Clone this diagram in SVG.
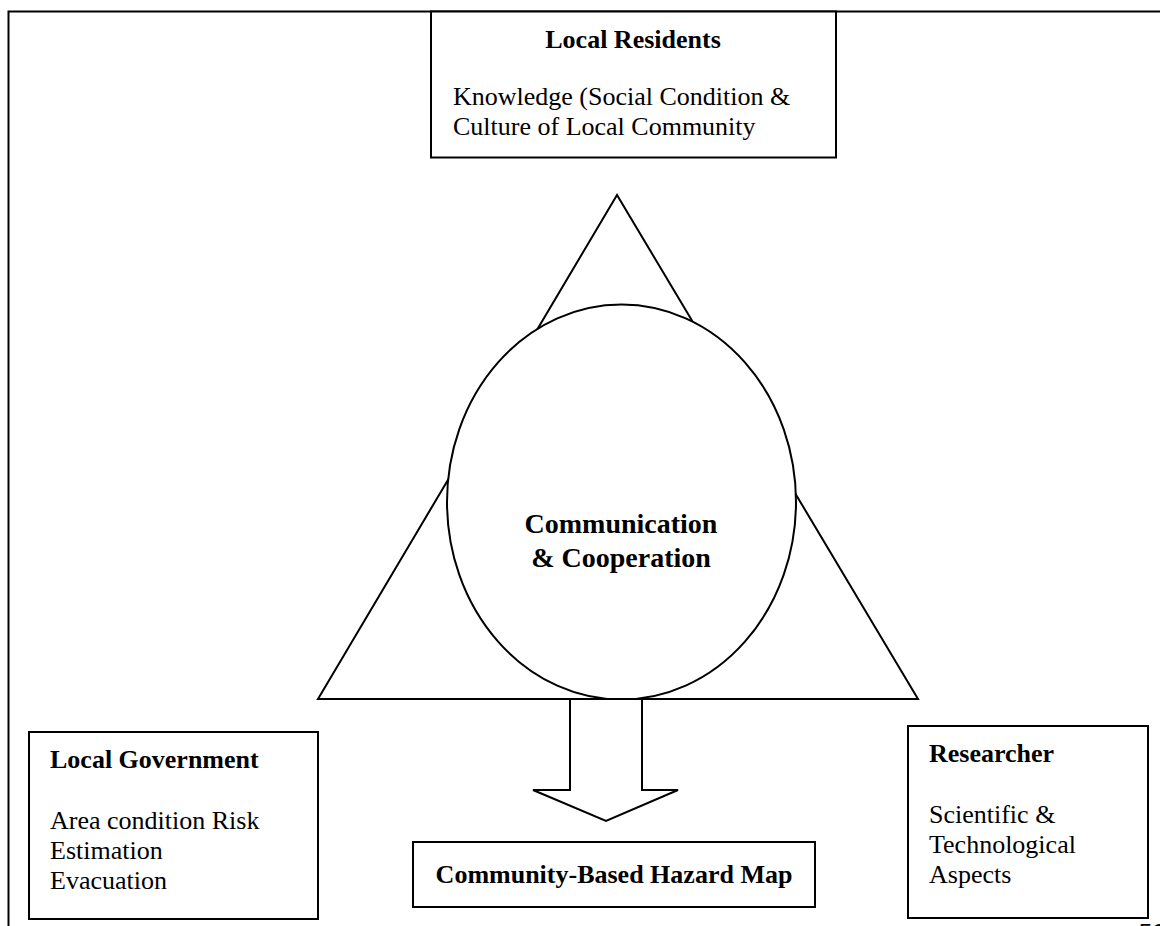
<svg xmlns="http://www.w3.org/2000/svg" width="1160" height="926" viewBox="0 0 1160 926">
<style>
.box{fill:#fff;stroke:#000;stroke-width:2}
.ln{fill:none;stroke:#000;stroke-width:2}
.t{font-family:"Liberation Serif","Times New Roman",serif;font-size:26px;fill:#000}
.b{font-weight:bold}
.big{font-size:28px}
</style>
<rect width="1160" height="926" fill="#fff"/>
<g id="frame">
<path class="ln" d="M8.5,926 V11.5 H1160" stroke-width="2.5"/>
</g>
<g id="triangle">
<polygon class="box" points="617,195 318,699 918,699"/>
</g>
<g id="center">
<ellipse class="box" cx="621.5" cy="502" rx="174.5" ry="197.5"/>
<text class="t b big" x="621" y="533" text-anchor="middle">Communication</text>
<text class="t b big" x="621" y="567" text-anchor="middle">&amp; Cooperation</text>
</g>
<g id="connectors">
<polygon class="box" points="570,699 642,699 642,790 678,790 606,821 533,790 570,790"/>
</g>
<g id="local-residents">
<rect class="box" x="431" y="11.5" width="405" height="146"/>
<text class="t b" x="633" y="48" text-anchor="middle">Local Residents</text>
<text class="t" x="453" y="105">Knowledge (Social Condition &amp;</text>
<text class="t" x="453" y="135">Culture of Local Community</text>
</g>
<g id="local-government">
<rect class="box" x="29" y="732" width="289" height="187"/>
<text class="t b" x="50" y="768">Local Government</text>
<text class="t" x="50" y="829">Area condition Risk</text>
<text class="t" x="50" y="859">Estimation</text>
<text class="t" x="50" y="889">Evacuation</text>
</g>
<g id="researcher">
<rect class="box" x="908" y="726" width="240" height="192"/>
<text class="t b" x="929" y="762">Researcher</text>
<text class="t" x="929" y="823">Scientific &amp;</text>
<text class="t" x="929" y="853">Technological</text>
<text class="t" x="929" y="883">Aspects</text>
</g>
<g id="hazard-map">
<rect class="box" x="413" y="842" width="402" height="65"/>
<text class="t b" x="614" y="883" text-anchor="middle">Community-Based Hazard Map</text>
</g>
<text x="1137" y="941" font-family="Liberation Sans, Arial, sans-serif" font-style="italic" font-size="24" fill="#000">56</text>
</svg>
